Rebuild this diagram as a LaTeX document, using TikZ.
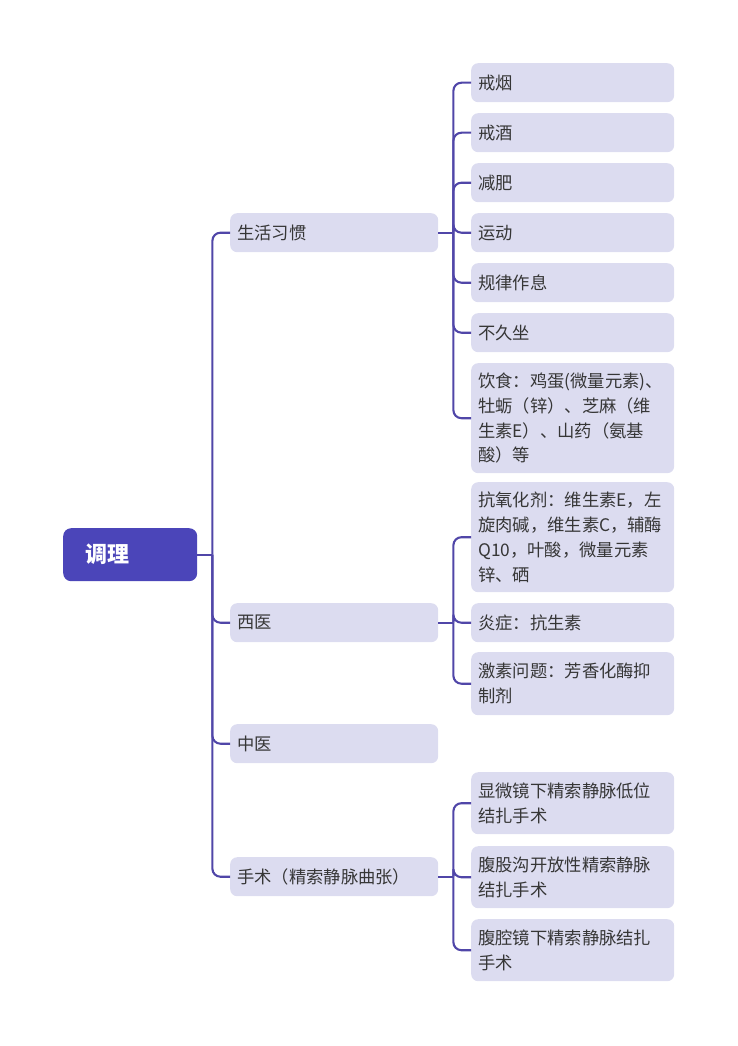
\documentclass[tikz,border=0pt]{standalone}
\usepackage{fontspec}
\setmainfont{Noto Sans CJK SC}
\definecolor{rootc}{HTML}{4B45B9}
\definecolor{boxc}{HTML}{DCDCF0}
\definecolor{linec}{HTML}{5046A8}
\definecolor{txtc}{HTML}{363636}
\tikzset{
  base/.style={anchor=north west, rounded corners=7pt, inner xsep=7pt, inner ysep=0pt, align=left, text=txtc,
    font=\fontsize{17.3}{24.8}\selectfont},
  lone/.style={base, fill=boxc, minimum width=208pt, text width=194pt, minimum height=39pt},
  ltwo/.style={base, fill=boxc, minimum width=203pt, text width=189pt},
  rootbox/.style={anchor=north west, rounded corners=8pt, fill=rootc, text=white, minimum width=134pt, minimum height=53pt,
    text width=90pt, inner xsep=22pt, align=left, font=\fontsize{22}{26}\selectfont\bfseries},
  conn/.style={draw=linec, line width=2.1pt, rounded corners=8pt},
}
\begin{document}
\begin{tikzpicture}[x=1pt,y=-1pt]
\useasboundingbox (0,0) rectangle (737,1046);
\node[rootbox] (root) at (63,528) {调理};
% level 1
\node[lone] (a) at (230,213) {生活习惯};
\node[lone] (b) at (230,603) {西医};
\node[lone] (c) at (230,724) {中医};
\node[lone] (d) at (230,857) {手术（精索静脉曲张）};
% level 2 under a
\node[ltwo, minimum height=39pt] (a1) at (471,63) {戒烟};
\node[ltwo, minimum height=39pt] (a2) at (471,113) {戒酒};
\node[ltwo, minimum height=39pt] (a3) at (471,163) {减肥};
\node[ltwo, minimum height=39pt] (a4) at (471,213) {运动};
\node[ltwo, minimum height=39pt] (a5) at (471,263) {规律作息};
\node[ltwo, minimum height=39pt] (a6) at (471,313) {不久坐};
\node[ltwo, minimum height=110pt] (a7) at (471,363) {饮食：鸡蛋(微量元素)、\\牡蛎（锌）、芝麻（维\\生素E）、山药（氨基\\酸）等};
% level 2 under b
\node[ltwo, minimum height=110pt] (b1) at (471,482) {抗氧化剂：维生素E，左\\旋肉碱，维生素C，辅酶\\Q10，叶酸，微量元素\\锌、硒};
\node[ltwo, minimum height=39pt] (b2) at (471,603) {炎症：抗生素};
\node[ltwo, minimum height=63pt] (b3) at (471,652) {激素问题：芳香化酶抑\\制剂};
% level 2 under d
\node[ltwo, minimum height=62pt] (d1) at (471,772) {显微镜下精索静脉低位\\结扎手术};
\node[ltwo, minimum height=62pt] (d2) at (471,846) {腹股沟开放性精索静脉\\结扎手术};
\node[ltwo, minimum height=62pt] (d3) at (471,919) {腹腔镜下精索静脉结扎\\手术};
% connectors
\path (root.east) ++(15,0) coordinate (j0);
\path (a.east) ++(15,0) coordinate (ja);
\path (b.east) ++(15,0) coordinate (jb);
\path (d.east) ++(15,0) coordinate (jd);
\draw[conn] (root.east) -- (j0);
\foreach \t in {a,b,c,d} \draw[conn] (j0) |- (\t.west);
\draw[conn] (a.east) -- (ja);
\foreach \t in {a1,a2,a3,a4,a5,a6,a7} \draw[conn] (ja) |- (\t.west);
\draw[conn] (b.east) -- (jb);
\foreach \t in {b1,b2,b3} \draw[conn] (jb) |- (\t.west);
\draw[conn] (d.east) -- (jd);
\foreach \t in {d1,d2,d3} \draw[conn] (jd) |- (\t.west);
\end{tikzpicture}
\end{document}
